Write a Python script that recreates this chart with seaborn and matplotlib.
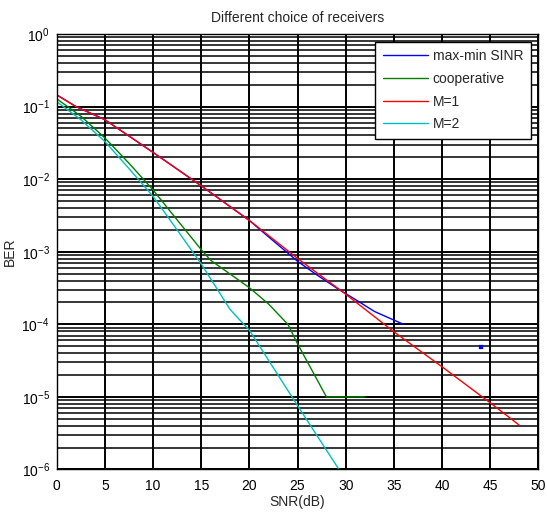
import numpy as np
import pandas as pd
import matplotlib
matplotlib.use("Agg")
import matplotlib.pyplot as plt
import seaborn as sns
from matplotlib.ticker import LogLocator, FixedLocator, NullFormatter, NullLocator

# ---- data ----
snr_maxmin = [0, 2, 5, 10, 15, 20, 22, 25, 27, 29, 31, 33, 36]
ber_maxmin = [0.145, 0.1, 0.066, 0.0234, 0.0081, 0.0027, 1.6e-3, 7.4e-4, 4.8e-4,
              3.2e-4, 2.2e-4, 1.5e-4, 1.0e-4]
snr_maxmin_isolated = [44]
ber_maxmin_isolated = [4.9e-5]

snr_coop = [0, 2.5, 5, 7.5, 10, 12.5, 15, 16, 20, 22, 24, 25, 28, 32]
ber_coop = [0.128, 0.074, 0.037, 0.0166, 0.0071, 0.00275, 0.00107, 7.6e-4,
            3.2e-4, 1.9e-4, 1.0e-4, 5.4e-5, 1.0e-5, 1.0e-5]

snr_m1 = [0, 2, 5, 10, 15, 20, 25, 30, 35, 40, 45, 48]
ber_m1 = [0.145, 0.1, 0.066, 0.0234, 0.0081, 0.0027, 8.1e-4, 2.6e-4, 7.9e-5,
          2.6e-5, 8.3e-6, 4.1e-6]

snr_m2 = [0, 2.5, 5, 7.5, 10, 12.5, 15, 18, 20, 25, 30]
ber_m2 = [0.117, 0.066, 0.033, 0.014, 0.0058, 0.002, 6.8e-4, 1.6e-4, 8.3e-5,
          7.6e-6, 7.2e-7]

labels = ["max-min SINR", "cooperative", "M=1", "M=2"]
colors = ["#0000ff", "#008000", "#ff0000", "#00bfbf"]
x_ticks = [0, 5, 10, 15, 20, 25, 30, 35, 40, 45, 50]
y_ticks = [1e-6, 1e-5, 1e-4, 1e-3, 1e-2, 1e-1, 1e0]

df = pd.concat([
    pd.DataFrame({"SNR": snr_maxmin, "BER": ber_maxmin, "scheme": labels[0]}),
    pd.DataFrame({"SNR": snr_coop, "BER": ber_coop, "scheme": labels[1]}),
    pd.DataFrame({"SNR": snr_m1, "BER": ber_m1, "scheme": labels[2]}),
    pd.DataFrame({"SNR": snr_m2, "BER": ber_m2, "scheme": labels[3]}),
], ignore_index=True)
df_iso = pd.DataFrame({"SNR": snr_maxmin_isolated, "BER": ber_maxmin_isolated})

sns.set_style("white")
plt.rcParams["font.family"] = ["Liberation Sans", "DejaVu Sans"]
plt.rcParams["mathtext.fontset"] = "custom"
plt.rcParams["mathtext.rm"] = "Liberation Sans"
plt.rcParams["mathtext.it"] = "Liberation Sans:italic"
plt.rcParams["mathtext.bf"] = "Liberation Sans:bold"

fig = plt.figure(figsize=(5.47, 5.13), dpi=100)
ax = fig.add_axes([0.1037, 0.0848, 0.8805, 0.8489])

sns.lineplot(data=df, x="SNR", y="BER", hue="scheme", hue_order=labels,
             palette=colors, estimator=None, sort=False, linewidth=1.0, ax=ax)
sns.scatterplot(data=df_iso, x="SNR", y="BER", color=colors[0], marker="s",
                s=6, edgecolor=colors[0], legend=False, ax=ax, zorder=3)

ax.set_yscale("log")
ax.set_xlim(0, 50)
ax.set_ylim(1e-6, 1)
ax.set_xticks(x_ticks)
ax.xaxis.set_minor_locator(NullLocator())
ax.yaxis.set_major_locator(FixedLocator(y_ticks))
ax.yaxis.set_minor_locator(LogLocator(base=10, subs=np.arange(2, 10), numticks=20))
ax.yaxis.set_minor_formatter(NullFormatter())

ax.grid(True, which="major", color="black", linewidth=1.4)
ax.grid(True, which="minor", axis="y", color="black", linewidth=1.1)
ax.set_axisbelow(True)

for sp in ax.spines.values():
    sp.set_color("black")
    sp.set_linewidth(1.0)

ax.tick_params(axis="both", which="both", direction="in", length=3,
               labelsize=10, colors="black")
ax.tick_params(axis="y", pad=5)
ax.tick_params(axis="x", pad=7)

ax.set_title("Different choice of receivers", fontsize=10, pad=9)
ax.set_xlabel("SNR(dB)", fontsize=10, labelpad=1.5)
ax.set_ylabel("BER", fontsize=10)
ax.yaxis.set_label_coords(-0.0825, 0.5)

handles, lbls = ax.get_legend_handles_labels()
leg = ax.legend(handles[:4], lbls[:4], loc="upper right", fontsize=10,
                frameon=True, fancybox=False, framealpha=1, edgecolor="black",
                borderaxespad=0.55, handlelength=3.3, handletextpad=0.3,
                labelspacing=0.62, borderpad=0.55)
leg.get_frame().set_linewidth(1.0)

fig.savefig("out.png", dpi=100)
